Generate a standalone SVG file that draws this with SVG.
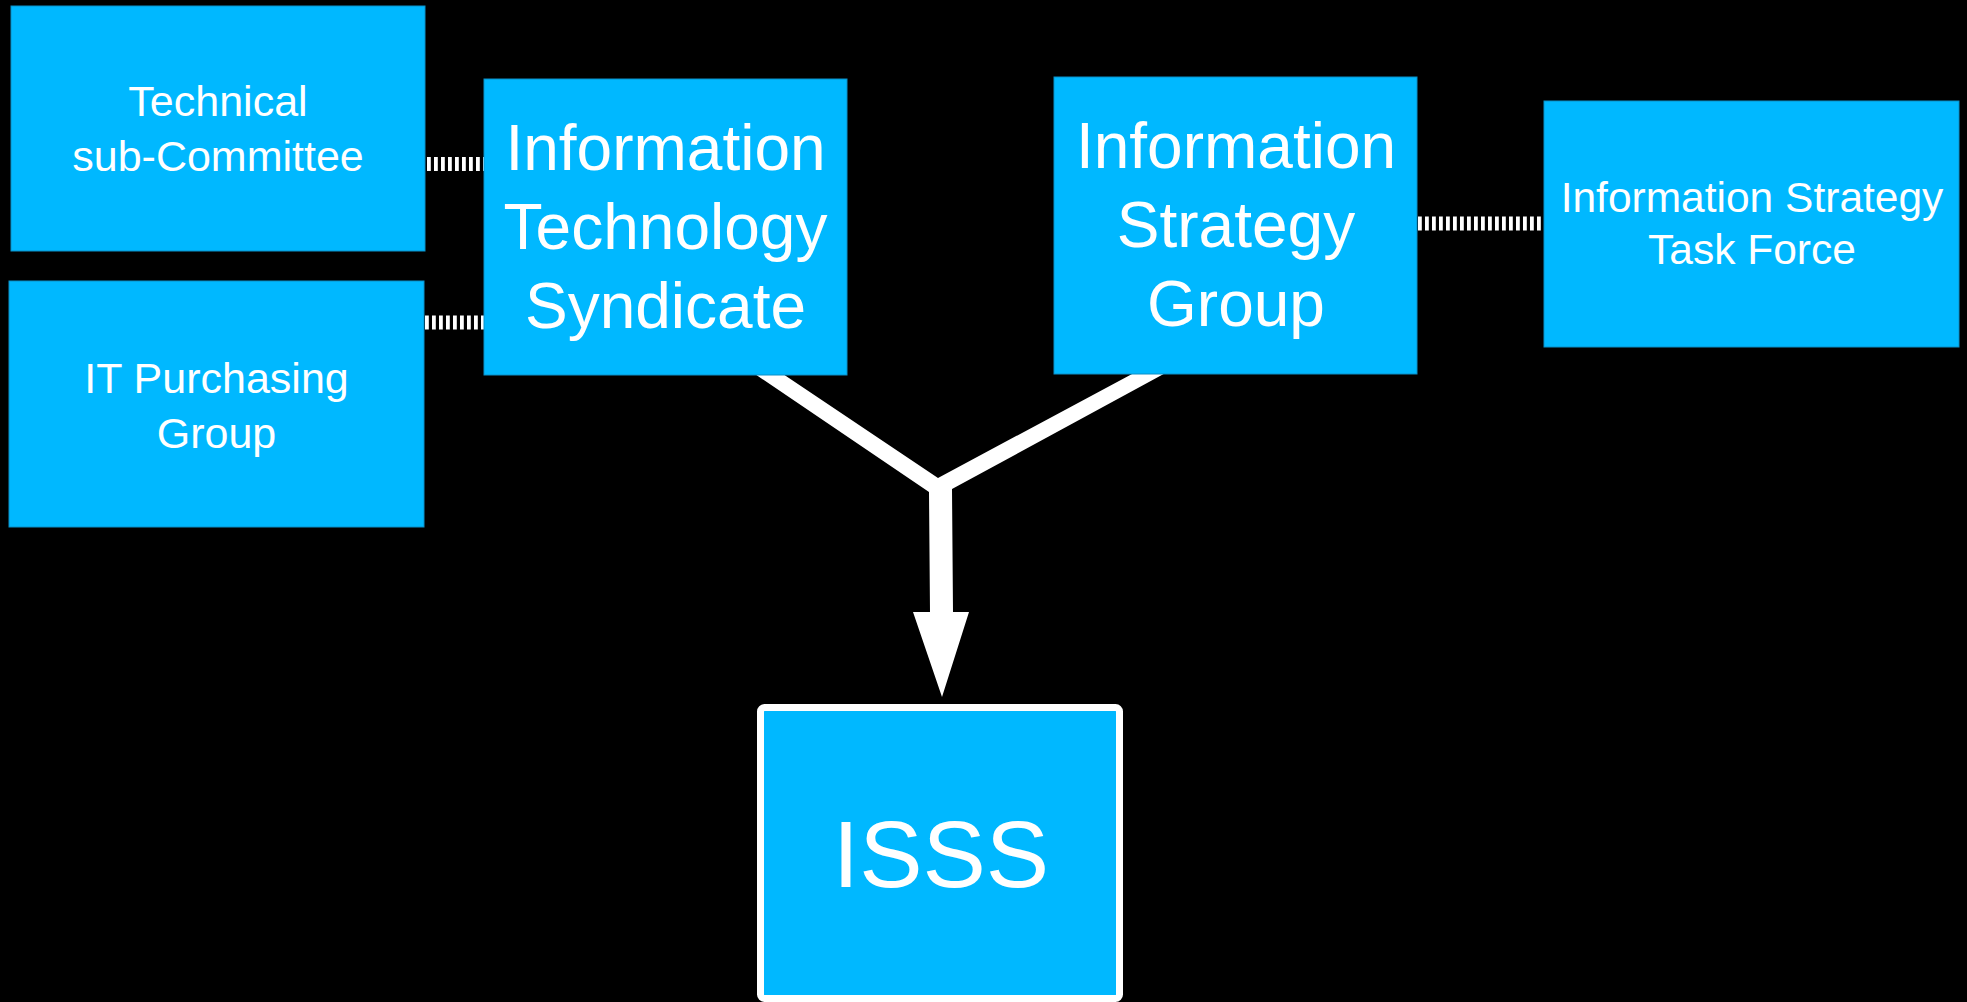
<svg xmlns="http://www.w3.org/2000/svg" width="1967" height="1002" viewBox="0 0 1967 1002">
  <style>
    .box { fill: #00B8FF; stroke: #0A90C8; stroke-width: 1; }
    .lbl { fill: #FFFFFF; font-family: "Liberation Sans", Arial, Helvetica, sans-serif; text-anchor: middle; }
    .dash { stroke: #FFFFFF; stroke-width: 14; stroke-dasharray: 3.8 3.2; fill: none; }
  </style>
  <rect x="0" y="0" width="1967" height="1002" fill="#000000"/>
  <g id="connectors">
    <line class="dash" x1="427" y1="164" x2="484" y2="164"/>
    <line class="dash" x1="425" y1="322.5" x2="484" y2="322.5"/>
    <line class="dash" x1="1418" y1="223.5" x2="1544" y2="223.5"/>
    <polygon fill="#FFFFFF" points="749,370 777,370 938,478 1139.5,370 1171,370 952,489 953,612 969,612 942,697 913,612 930,612 929,492"/>
  </g>
  <g id="technical-sub-committee">
    <rect class="box" x="11" y="6" width="414" height="245"/>
    <text class="lbl" font-size="43"><tspan x="218" y="116">Technical</tspan><tspan x="218" y="171">sub-Committee</tspan></text>
  </g>
  <g id="it-purchasing-group">
    <rect class="box" x="9" y="281" width="415" height="246"/>
    <text class="lbl" font-size="43"><tspan x="216.5" y="393">IT Purchasing</tspan><tspan x="216.5" y="448">Group</tspan></text>
  </g>
  <g id="information-technology-syndicate">
    <rect class="box" x="484" y="79" width="363" height="296"/>
    <text class="lbl" font-size="64"><tspan x="665.5" y="170">Information</tspan><tspan x="665.5" y="249">Technology</tspan><tspan x="665.5" y="328">Syndicate</tspan></text>
  </g>
  <g id="information-strategy-group">
    <rect class="box" x="1054" y="77" width="363" height="297"/>
    <text class="lbl" font-size="64"><tspan x="1236" y="168">Information</tspan><tspan x="1236" y="247">Strategy</tspan><tspan x="1236" y="326">Group</tspan></text>
  </g>
  <g id="information-strategy-task-force">
    <rect class="box" x="1544" y="101" width="415" height="246"/>
    <text class="lbl" font-size="42.5"><tspan x="1752" y="212">Information Strategy</tspan><tspan x="1752" y="264">Task Force</tspan></text>
  </g>
  <g id="isss">
    <rect x="760.5" y="707.5" width="359" height="291" rx="4" fill="#00B8FF" stroke="#FFFFFF" stroke-width="7"/>
    <text class="lbl" font-size="95" x="941" y="887">ISSS</text>
  </g>
</svg>
